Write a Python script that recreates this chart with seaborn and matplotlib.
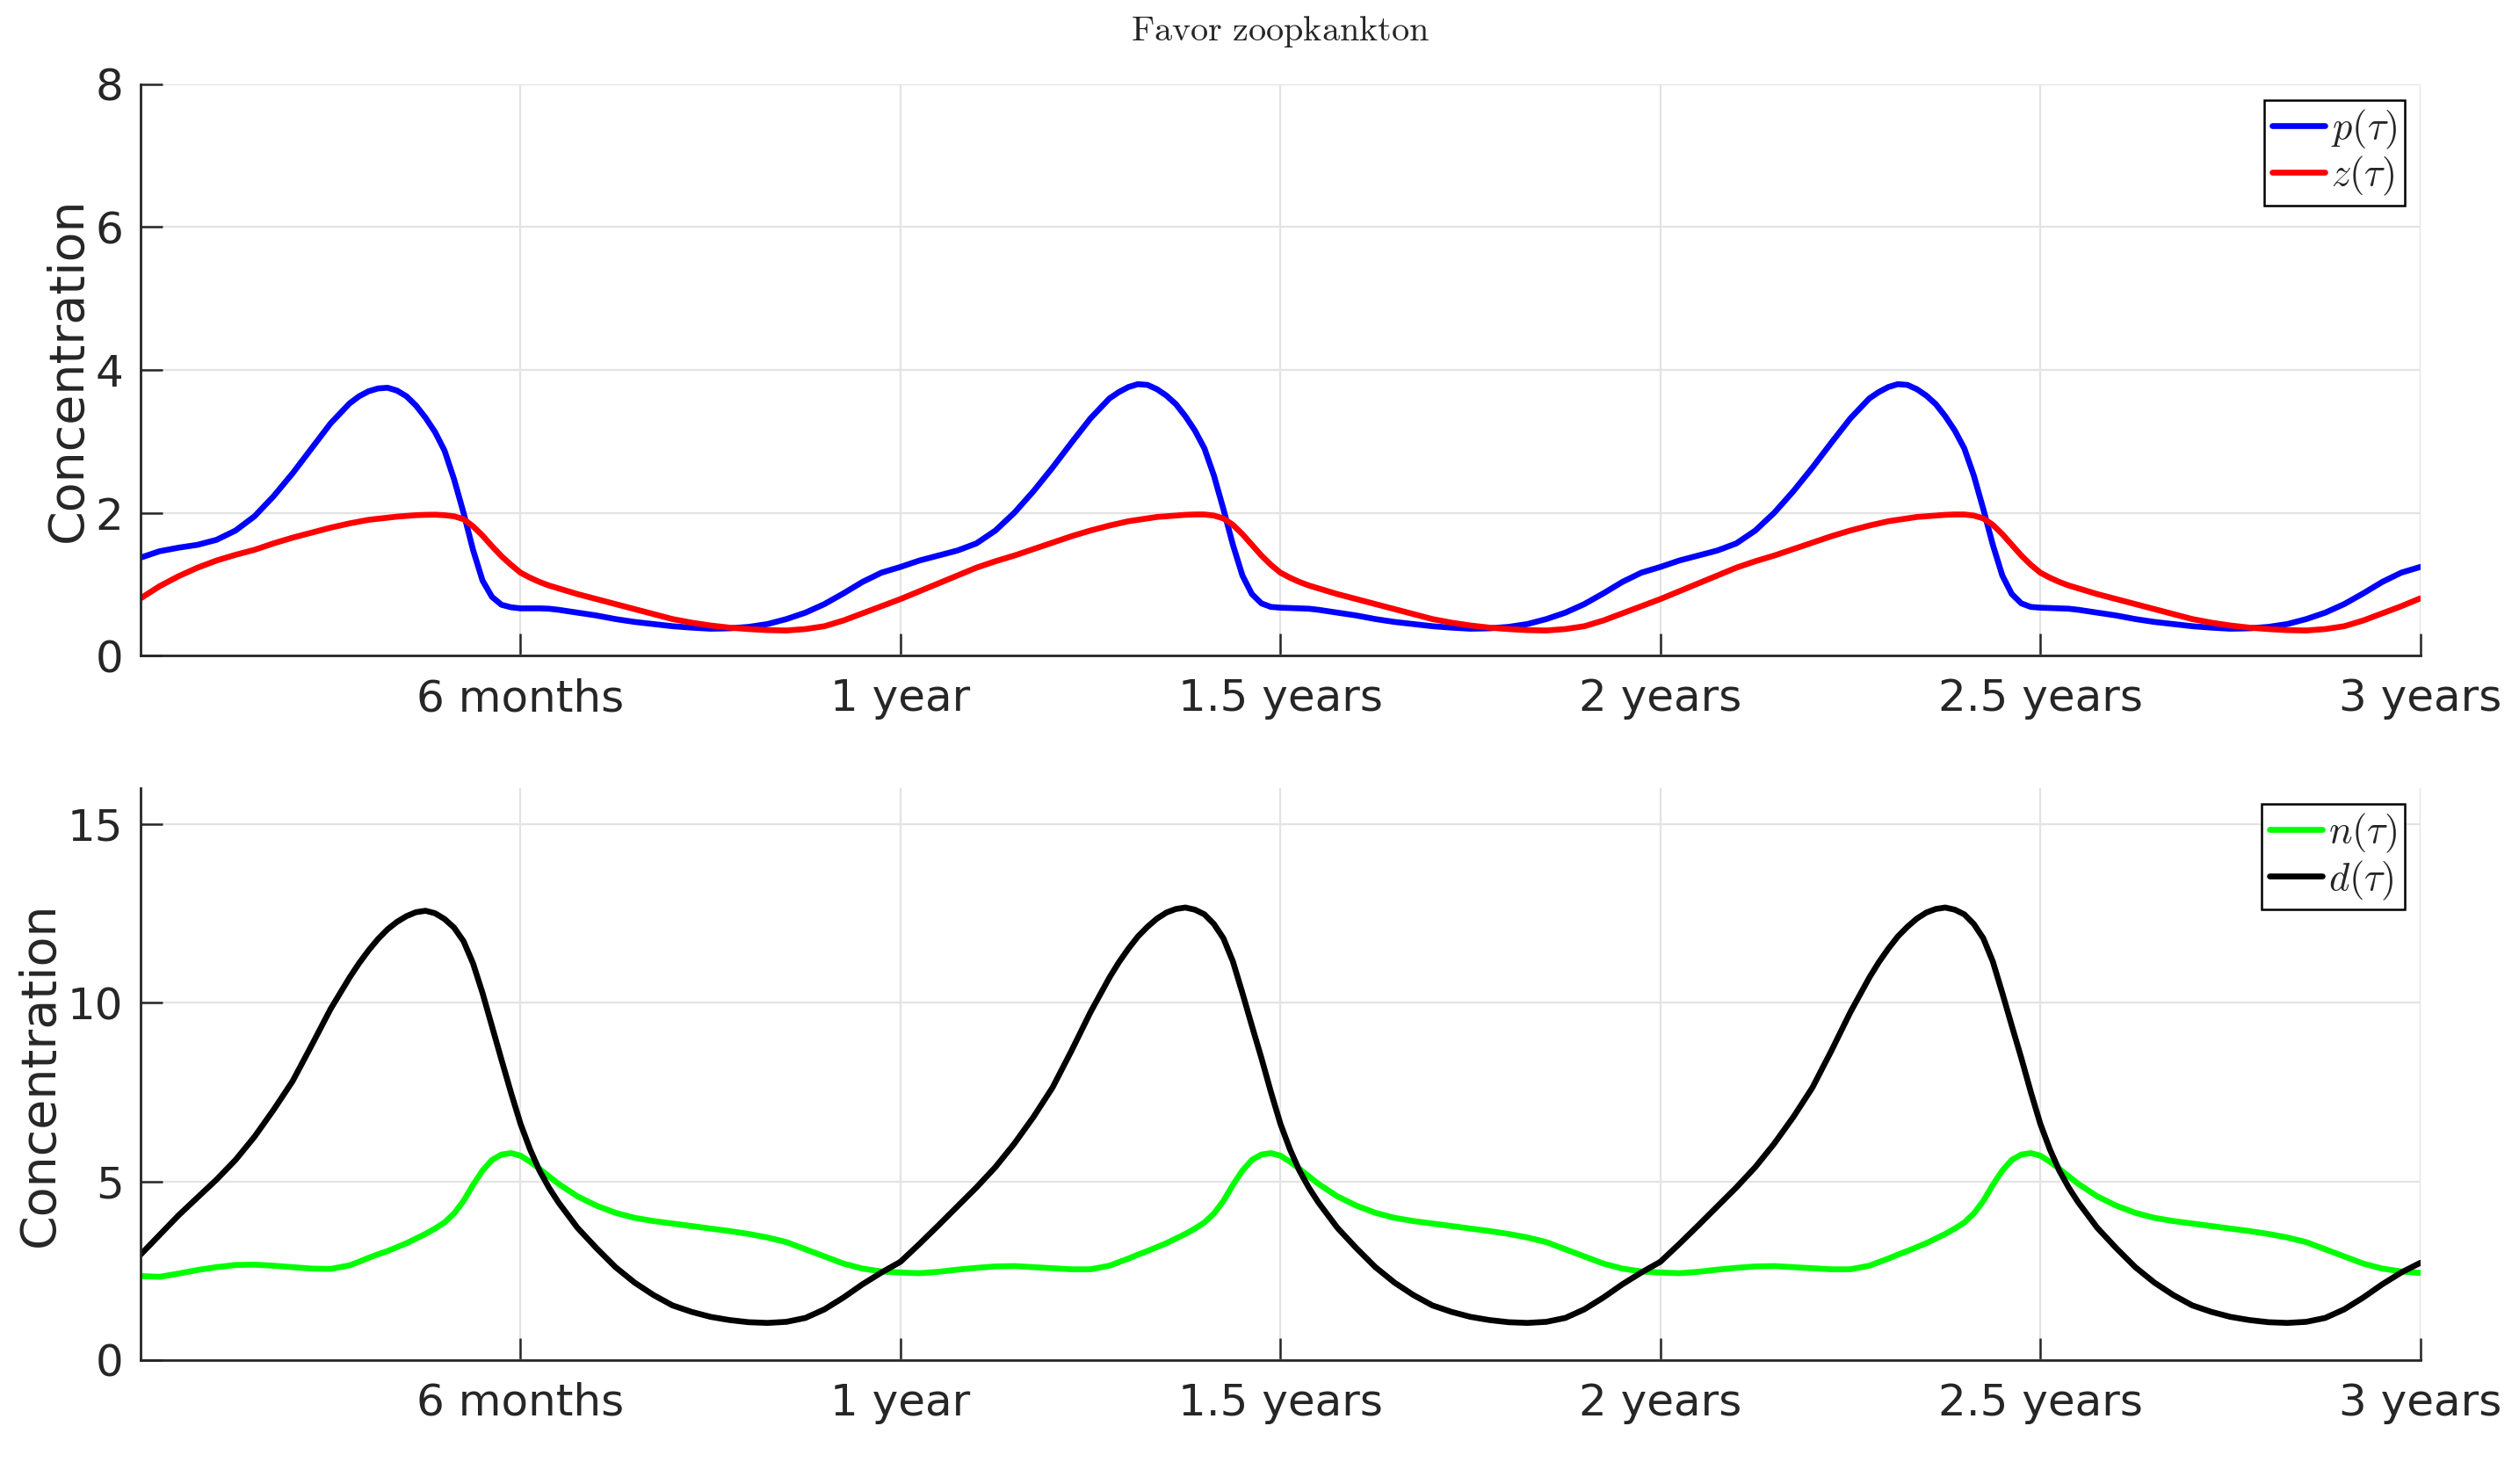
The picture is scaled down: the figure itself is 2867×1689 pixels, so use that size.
import numpy as np
import pandas as pd
import matplotlib
matplotlib.use("Agg")
import matplotlib.pyplot as plt
import seaborn as sns

sns.set_theme(style="whitegrid")
plt.rcParams['font.family'] = ['DejaVu Sans']
plt.rcParams['mathtext.fontset'] = 'cm'

# sample positions inside one year (denser around the bloom)
frac = [0, .025, .05, .075, .1, .125, .15, .175, .2, .225, .25, .275,
        .2875, .3, .3125, .325, .3375, .35, .3625, .375, .3875, .4, .4125,
        .425, .4375, .45, .4625, .475, .4875, .5, .5125, .525, .5375, .55,
        .575, .6, .625, .65, .675, .7, .725, .75, .775, .8, .825, .85,
        .875, .9, .925, .95, .975]
years = np.concatenate([np.array(frac) + k for k in range(3)] + [[3.0]])

# phytoplankton p(tau), one list per year
p_y1 = [1.37, 1.46, 1.51, 1.55, 1.62, 1.75, 1.95, 2.23, 2.55, 2.90, 3.25, 3.53,
        3.63, 3.70, 3.74, 3.75, 3.71, 3.63, 3.50, 3.33, 3.13, 2.87, 2.47,
        2.00, 1.48, 1.05, 0.82, 0.71, 0.675, 0.66, 0.66, 0.66, 0.655, 0.64,
        0.60, 0.56, 0.51, 0.47, 0.44, 0.41, 0.39, 0.375, 0.38, 0.40, 0.44,
        0.51, 0.60, 0.72, 0.87, 1.03, 1.16]
p_y2 = [1.24, 1.33, 1.40, 1.47, 1.57, 1.75, 2.00, 2.30, 2.63, 2.98, 3.32, 3.60,
        3.69, 3.76, 3.80, 3.79, 3.73, 3.64, 3.52, 3.35, 3.15, 2.90, 2.52,
        2.05, 1.55, 1.12, 0.86, 0.73, 0.68, 0.67, 0.665, 0.66, 0.655, 0.64,
        0.60, 0.56, 0.51, 0.47, 0.44, 0.41, 0.39, 0.375, 0.38, 0.40, 0.44,
        0.51, 0.60, 0.72, 0.87, 1.03, 1.16]
p_y3 = [1.24, 1.33, 1.40, 1.47, 1.57, 1.75, 2.00, 2.30, 2.63, 2.98, 3.32, 3.60,
        3.69, 3.76, 3.80, 3.79, 3.73, 3.64, 3.52, 3.35, 3.15, 2.90, 2.52,
        2.05, 1.55, 1.12, 0.86, 0.73, 0.68, 0.67, 0.665, 0.66, 0.655, 0.64,
        0.60, 0.56, 0.51, 0.47, 0.44, 0.41, 0.39, 0.375, 0.38, 0.40, 0.44,
        0.51, 0.60, 0.72, 0.87, 1.03, 1.16]
p_end = [1.24]

# zooplankton z(tau)
z_y1 = [0.80, 0.97, 1.11, 1.23, 1.33, 1.41, 1.48, 1.57, 1.65, 1.72, 1.79, 1.85,
        1.875, 1.90, 1.915, 1.93, 1.945, 1.955, 1.965, 1.97, 1.972, 1.965, 1.95,
        1.91, 1.81, 1.68, 1.53, 1.39, 1.27, 1.16, 1.09, 1.03, 0.98, 0.94,
        0.86, 0.79, 0.72, 0.65, 0.58, 0.51, 0.46, 0.42, 0.39, 0.37, 0.355,
        0.35, 0.37, 0.41, 0.49, 0.59, 0.69]
z_y2 = [0.79, 0.90, 1.01, 1.12, 1.23, 1.32, 1.40, 1.49, 1.58, 1.67, 1.75, 1.82,
        1.85, 1.88, 1.90, 1.92, 1.94, 1.95, 1.96, 1.97, 1.975, 1.975, 1.96,
        1.92, 1.83, 1.70, 1.55, 1.40, 1.27, 1.16, 1.09, 1.03, 0.98, 0.94,
        0.86, 0.79, 0.72, 0.65, 0.58, 0.51, 0.46, 0.42, 0.39, 0.37, 0.355,
        0.35, 0.37, 0.41, 0.49, 0.59, 0.69]
z_y3 = [0.79, 0.90, 1.01, 1.12, 1.23, 1.32, 1.40, 1.49, 1.58, 1.67, 1.75, 1.82,
        1.85, 1.88, 1.90, 1.92, 1.94, 1.95, 1.96, 1.97, 1.975, 1.975, 1.96,
        1.92, 1.83, 1.70, 1.55, 1.40, 1.27, 1.16, 1.09, 1.03, 0.98, 0.94,
        0.86, 0.79, 0.72, 0.65, 0.58, 0.51, 0.46, 0.42, 0.39, 0.37, 0.355,
        0.35, 0.37, 0.41, 0.49, 0.59, 0.69]
z_end = [0.80]

# nutrient n(tau)
n_y1 = [2.35, 2.33, 2.42, 2.52, 2.60, 2.66, 2.67, 2.64, 2.60, 2.56, 2.55, 2.65,
        2.75, 2.86, 2.96, 3.05, 3.16, 3.27, 3.40, 3.53, 3.68, 3.85, 4.10,
        4.45, 4.90, 5.30, 5.60, 5.75, 5.79, 5.72, 5.55, 5.35, 5.14, 4.93,
        4.58, 4.32, 4.12, 3.98, 3.89, 3.82, 3.75, 3.68, 3.61, 3.53, 3.43,
        3.30, 3.10, 2.90, 2.70, 2.56, 2.48]
n_y2 = [2.45, 2.43, 2.47, 2.53, 2.58, 2.62, 2.63, 2.60, 2.57, 2.54, 2.54, 2.64,
        2.74, 2.84, 2.95, 3.05, 3.16, 3.27, 3.40, 3.53, 3.68, 3.85, 4.10,
        4.45, 4.90, 5.30, 5.60, 5.75, 5.79, 5.72, 5.55, 5.35, 5.14, 4.93,
        4.58, 4.32, 4.12, 3.98, 3.89, 3.82, 3.75, 3.68, 3.61, 3.53, 3.43,
        3.30, 3.10, 2.90, 2.70, 2.56, 2.48]
n_y3 = [2.45, 2.43, 2.47, 2.53, 2.58, 2.62, 2.63, 2.60, 2.57, 2.54, 2.54, 2.64,
        2.74, 2.84, 2.95, 3.05, 3.16, 3.27, 3.40, 3.53, 3.68, 3.85, 4.10,
        4.45, 4.90, 5.30, 5.60, 5.75, 5.79, 5.72, 5.55, 5.35, 5.14, 4.93,
        4.58, 4.32, 4.12, 3.98, 3.89, 3.82, 3.75, 3.68, 3.61, 3.53, 3.43,
        3.30, 3.10, 2.90, 2.70, 2.56, 2.48]
n_end = [2.44]

# detritus d(tau)
d_y1 = [2.95, 3.50, 4.05, 4.55, 5.05, 5.60, 6.25, 7.00, 7.80, 8.80, 9.82, 10.70,
        11.10, 11.46, 11.78, 12.05, 12.26, 12.42, 12.53, 12.57, 12.50, 12.34, 12.10,
        11.72, 11.10, 10.27, 9.33, 8.40, 7.48, 6.61, 5.90, 5.30, 4.82, 4.41,
        3.70, 3.13, 2.60, 2.17, 1.82, 1.53, 1.35, 1.21, 1.12, 1.06, 1.04,
        1.07, 1.18, 1.42, 1.75, 2.12, 2.45]
d_y2 = [2.75, 3.25, 3.77, 4.30, 4.83, 5.40, 6.06, 6.80, 7.62, 8.65, 9.73, 10.70,
        11.13, 11.51, 11.85, 12.12, 12.35, 12.52, 12.62, 12.66, 12.60, 12.47, 12.20,
        11.80, 11.15, 10.27, 9.35, 8.45, 7.50, 6.61, 5.90, 5.30, 4.82, 4.41,
        3.70, 3.13, 2.60, 2.17, 1.82, 1.53, 1.35, 1.21, 1.12, 1.06, 1.04,
        1.07, 1.18, 1.42, 1.75, 2.12, 2.45]
d_y3 = [2.75, 3.25, 3.77, 4.30, 4.83, 5.40, 6.06, 6.80, 7.62, 8.65, 9.73, 10.70,
        11.13, 11.51, 11.85, 12.12, 12.35, 12.52, 12.62, 12.66, 12.60, 12.47, 12.20,
        11.80, 11.15, 10.27, 9.35, 8.45, 7.50, 6.61, 5.90, 5.30, 4.82, 4.41,
        3.70, 3.13, 2.60, 2.17, 1.82, 1.53, 1.35, 1.21, 1.12, 1.06, 1.04,
        1.07, 1.18, 1.42, 1.75, 2.12, 2.45]
d_end = [2.72]

tick_pos = [0.5, 1, 1.5, 2, 2.5, 3]
tick_labels = ["6 months", "1 year", "1.5 years", "2 years", "2.5 years", "3 years"]

p = p_y1 + p_y2 + p_y3 + p_end
z = z_y1 + z_y2 + z_y3 + z_end
n = n_y1 + n_y2 + n_y3 + n_end
d = d_y1 + d_y2 + d_y3 + d_end

lab_p, lab_z = r"$p(\tau)$", r"$z(\tau)$"
lab_n, lab_d = r"$n(\tau)$", r"$d(\tau)$"

df_top = pd.concat([
    pd.DataFrame({"years": years, "value": p, "series": lab_p}),
    pd.DataFrame({"years": years, "value": z, "series": lab_z}),
])
df_bot = pd.concat([
    pd.DataFrame({"years": years, "value": n, "series": lab_n}),
    pd.DataFrame({"years": years, "value": d, "series": lab_d}),
])

fig = plt.figure(figsize=(14.335, 8.445), dpi=200)
ax1 = fig.add_axes([0.0558, 0.5583, 0.905, 0.3849])
ax2 = fig.add_axes([0.0558, 0.0835, 0.905, 0.3854])

sns.lineplot(data=df_top, x="years", y="value", hue="series",
             palette={lab_p: "#0000ff", lab_z: "#ff0000"},
             linewidth=2.4, errorbar=None, ax=ax1)
sns.lineplot(data=df_bot, x="years", y="value", hue="series",
             palette={lab_n: "#00ff00", lab_d: "#000000"},
             linewidth=2.4, errorbar=None, ax=ax2)

for ax, ymax, yticks in [(ax1, 8, [0, 2, 4, 6, 8]), (ax2, 16, [0, 5, 10, 15])]:
    ax.set_xlim(0, 3)
    ax.set_ylim(0, ymax)
    ax.set_xticks(tick_pos)
    ax.set_xticklabels(tick_labels)
    ax.set_yticks(yticks)
    ax.set_xlabel("")
    ax.set_ylabel("Concentration", fontsize=20, color="#262626", labelpad=1.5)
    ax.grid(True, color="#e3e3e3", linewidth=0.8)
    ax.set_facecolor("white")
    for side in ["top", "right"]:
        ax.spines[side].set_visible(False)
    for side in ["left", "bottom"]:
        ax.spines[side].set_visible(True)
        ax.spines[side].set_color("#262626")
        ax.spines[side].set_linewidth(1.0)
    ax.tick_params(axis="both", direction="in", length=9, width=0.9,
                   color="#262626", labelcolor="#262626", labelsize=18)
    ax.tick_params(axis="x", pad=9, bottom=True)
    ax.tick_params(axis="y", pad=7, left=True)
    handles, labels = ax.get_legend_handles_labels()
    leg = ax.legend(handles, labels, loc="upper right", fontsize=16,
                    frameon=True, fancybox=False, edgecolor="black",
                    framealpha=1, handlelength=1.35, handletextpad=0.15,
                    borderpad=0.2, borderaxespad=0.4, labelspacing=0.1)
    leg.get_frame().set_linewidth(0.9)
    for h in leg.get_lines():
        h.set_linewidth(2.4)

ax1.set_title(r"$\mathrm{Favor\ zoopkankton}$", fontsize=14.5, pad=18, color="#262626")

fig.savefig("out.png", dpi=200)
